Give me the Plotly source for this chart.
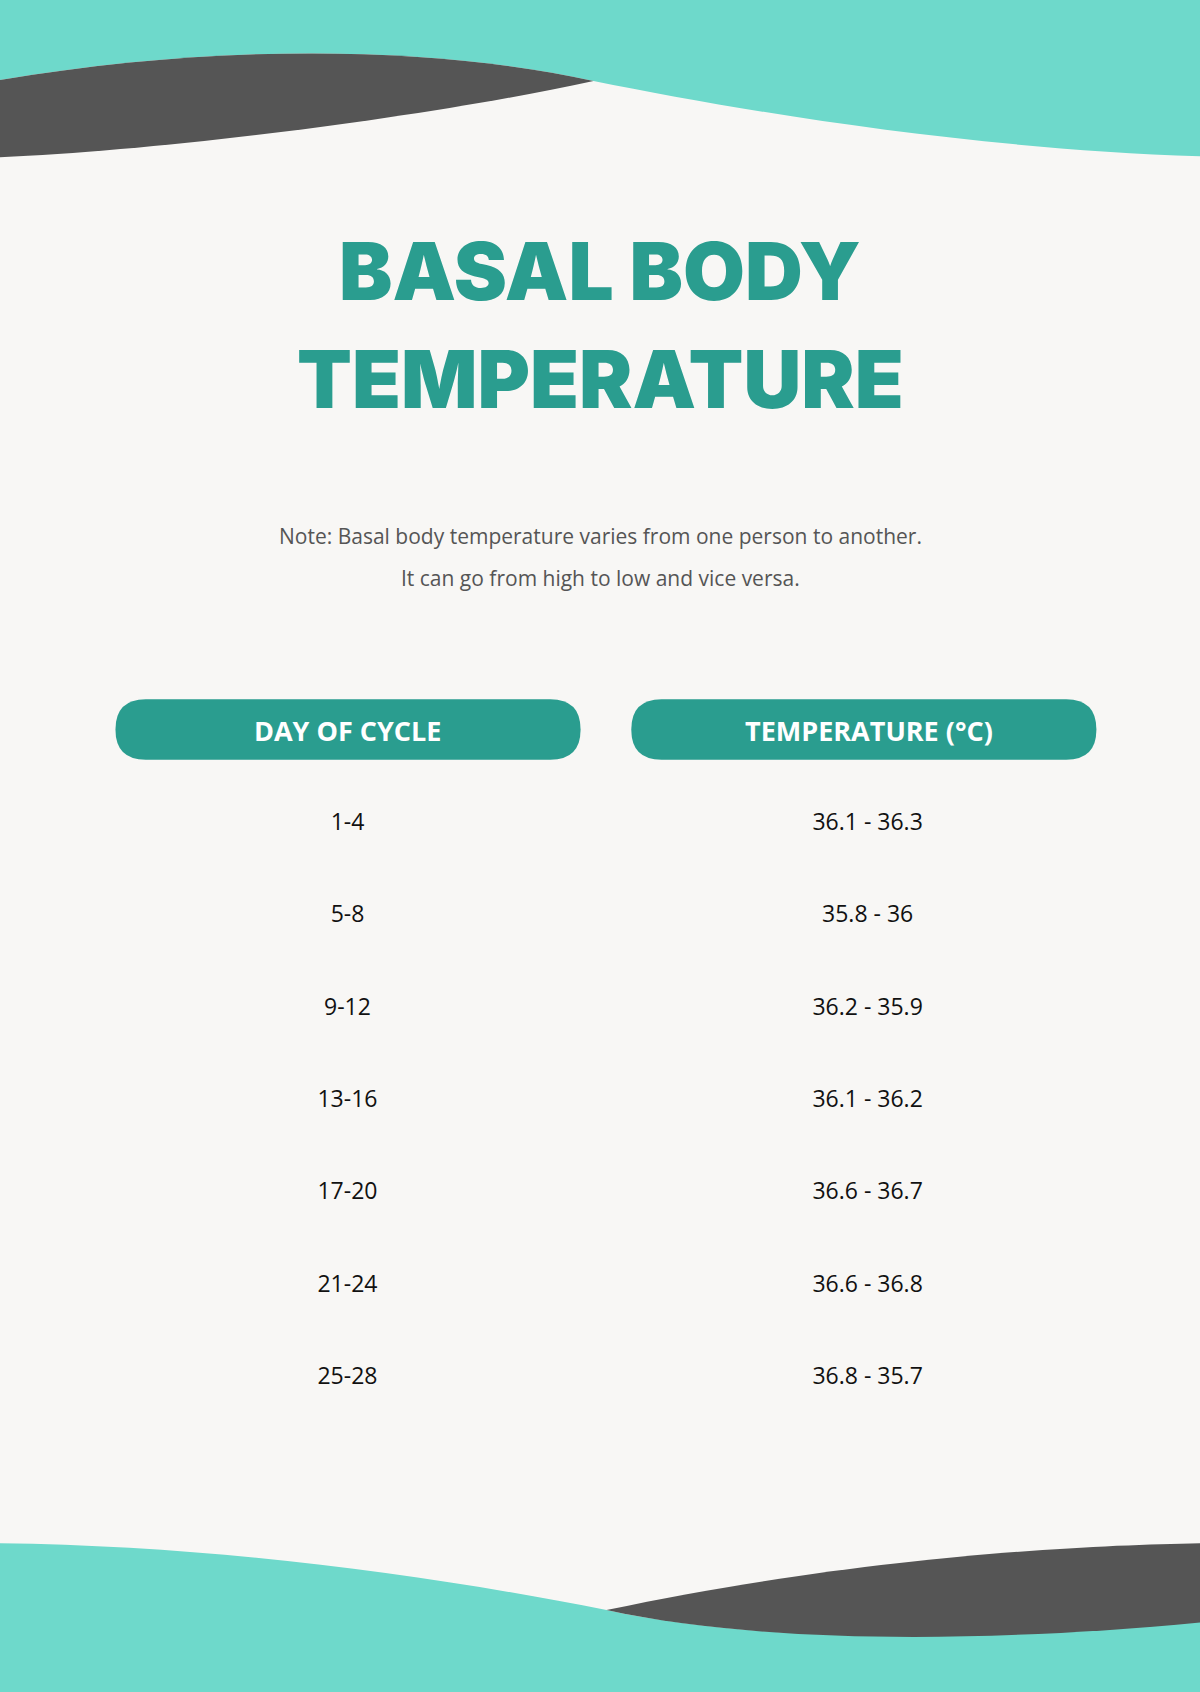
import plotly.graph_objects as go

# table data
days = ["1-4", "5-8", "9-12", "13-16", "17-20", "21-24", "25-28"]
temps = ["36.1 - 36.3", "35.8 - 36", "36.2 - 35.9", "36.1 - 36.2",
         "36.6 - 36.7", "36.6 - 36.8", "36.8 - 35.7"]
headers = ["DAY OF CYCLE", "TEMPERATURE (°C)"]
note_lines = ["Note: Basal body temperature varies from one person to another.",
              "It can go from high to low and vice versa."]
row_pos = [764, 849, 935, 1021, 1106, 1192, 1277]

TEAL = "#6ed9cb"
DARK = "#555555"
GREEN = "#2a9d8f"
BG = "#f8f7f5"

W, H = 1112, 1568

def pill(x0, x1, y0, y1):
    r = (y1 - y0) / 2
    return (f"M{x0+r},{y0} L{x1-r},{y0} Q{x1},{y0} {x1},{y0+r} Q{x1},{y1} {x1-r},{y1} "
            f"L{x0+r},{y1} Q{x0},{y1} {x0},{y0+r} Q{x0},{y0} {x0+r},{y0} Z")

shapes = [
    # top waves
    dict(type="path", path=f"M-5,-5 L{W+5},-5 L{W+5},145 C900,138 700,105 550,75 C400,42 200,40 -5,75 Z",
         fillcolor=TEAL, line_width=0, layer="below"),
    dict(type="path", path="M-5,75 C200,40 400,42 550,75 C400,108 150,140 -5,146 Z",
         fillcolor=DARK, line_width=0, layer="below"),
    # bottom waves
    dict(type="path", path=f"M-5,1430 C200,1432 400,1460 562,1492 C700,1522 900,1522 {W+5},1502 L{W+5},{H+5} L-5,{H+5} Z",
         fillcolor=TEAL, line_width=0, layer="below"),
    dict(type="path", path=f"M562,1492 C800,1442 1000,1432 {W+5},1430 L{W+5},1503 C900,1524 700,1522 562,1492 Z",
         fillcolor=DARK, line_width=0, layer="below"),
    # header pills
    dict(type="path", path=pill(107, 538, 648, 704), fillcolor=GREEN, line_width=0, layer="below"),
    dict(type="path", path=pill(585, 1016, 648, 704), fillcolor=GREEN, line_width=0, layer="below"),
]

fig = go.Figure()
fig.add_trace(go.Scatter(x=[322] * len(days), y=row_pos, text=days, mode="text",
                         textfont=dict(family="Open Sans", size=23, color="#111111"),
                         hoverinfo="skip"))
fig.add_trace(go.Scatter(x=[804] * len(temps), y=row_pos, text=temps, mode="text",
                         textfont=dict(family="Open Sans", size=23, color="#111111"),
                         hoverinfo="skip"))

annotations = [
    dict(x=W / 2, y=251, text="BASAL BODY", showarrow=False,
         font=dict(family="Inter", size=80, color=GREEN, weight=900)),
    dict(x=W / 2, y=351, text="TEMPERATURE", showarrow=False,
         font=dict(family="Inter", size=80, color=GREEN, weight=900)),
    dict(x=W / 2, y=497, text=note_lines[0], showarrow=False,
         font=dict(family="Open Sans", size=21, color="#555555")),
    dict(x=W / 2, y=536, text=note_lines[1], showarrow=False,
         font=dict(family="Open Sans", size=21, color="#555555")),
    dict(x=322, y=677, text=f"<b>{headers[0]}</b>", showarrow=False,
         font=dict(family="Open Sans", size=27, color="white")),
    dict(x=805, y=677, text=f"<b>{headers[1]}</b>", showarrow=False,
         font=dict(family="Open Sans", size=27, color="white")),
]
for a in annotations:
    a.update(xref="x", yref="y")

fig.update_layout(
    width=1200, height=1692, margin=dict(l=0, r=0, t=0, b=0),
    paper_bgcolor=BG, plot_bgcolor=BG, showlegend=False,
    xaxis=dict(range=[0, W], visible=False, fixedrange=True),
    yaxis=dict(range=[H, 0], visible=False, fixedrange=True),
    shapes=shapes, annotations=annotations,
)
fig.write_html("out.html", config={"displayModeBar": False},
               post_script="document.body.style.margin='0';")
